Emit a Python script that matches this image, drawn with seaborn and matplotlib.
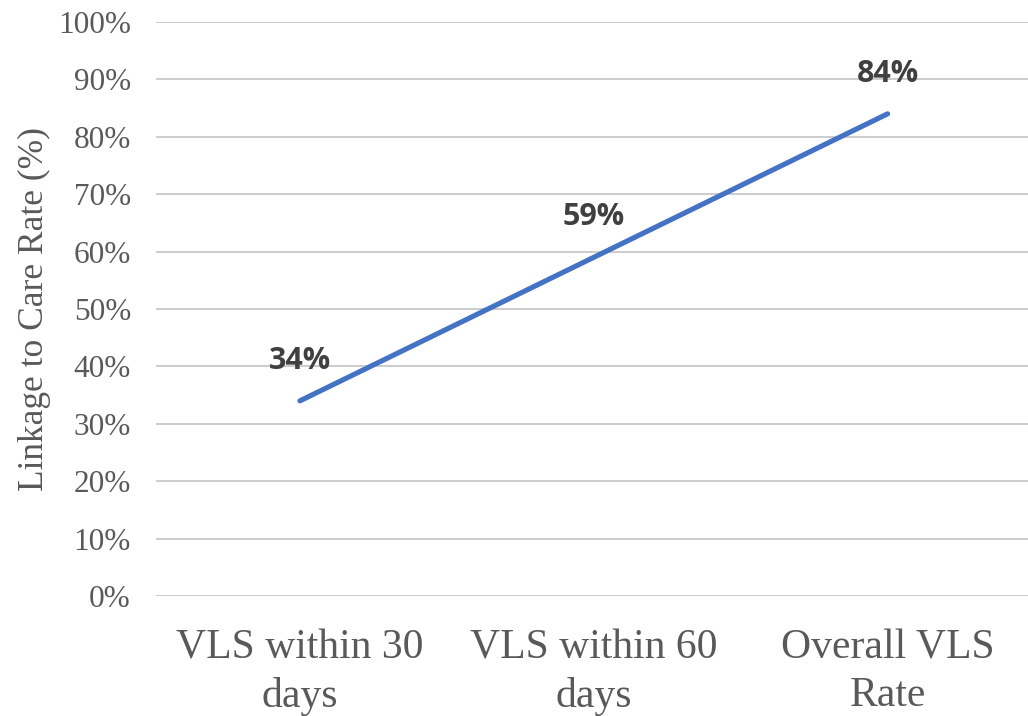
import matplotlib
matplotlib.use("Agg")
import matplotlib.pyplot as plt
import seaborn as sns
import pandas as pd

categories = ["VLS within 30\ndays", "VLS within 60\ndays", "Overall VLS\nRate"]
rates = [34, 59, 84]
y_ticks = list(range(0, 101, 10))
y_label = "Linkage to Care Rate (%)"

sns.set_theme(style="white")
plt.rcParams["font.family"] = ["Liberation Serif", "DejaVu Serif"]

df = pd.DataFrame({"pos": range(len(categories)), "rate": rates})

fig = plt.figure(figsize=(10.28, 7.16), dpi=100)
ax = fig.add_axes([156 / 1028, 120 / 716, 872 / 1028, 574 / 716])

sns.lineplot(data=df, x="pos", y="rate", ax=ax, color="#4472C4",
             linewidth=3.7, solid_capstyle="round", marker=None)

for pos, val in zip(df["pos"], df["rate"]):
    ax.annotate(f"{val}%", xy=(pos, val), xytext=(0, 29), textcoords="offset points",
                ha="center", va="center", fontsize=22, fontweight="bold",
                color="#404040", family=["Open Sans", "DejaVu Sans"])

ax.set_ylim(0, 100)
ax.set_xlim(-0.49, 2.478)
ax.set_yticks(y_ticks)
ax.set_yticklabels([f"{t}%" for t in y_ticks], fontsize=22.5, color="#595959")
ax.set_xticks(range(len(categories)))
ax.set_xticklabels(categories, fontsize=30, color="#595959", linespacing=1.3)
ax.tick_params(axis="y", length=0, pad=18)
ax.tick_params(axis="x", length=0, pad=24)

ax.set_xlabel("")
ax.set_ylabel(y_label, fontsize=25.5, color="#595959", labelpad=5)

ax.grid(axis="y", color="#c8c8c8", linewidth=1.3)
ax.grid(axis="x", visible=False)
ax.set_axisbelow(True)
for s in ax.spines.values():
    s.set_visible(False)

fig.savefig("out.png", dpi=100)
